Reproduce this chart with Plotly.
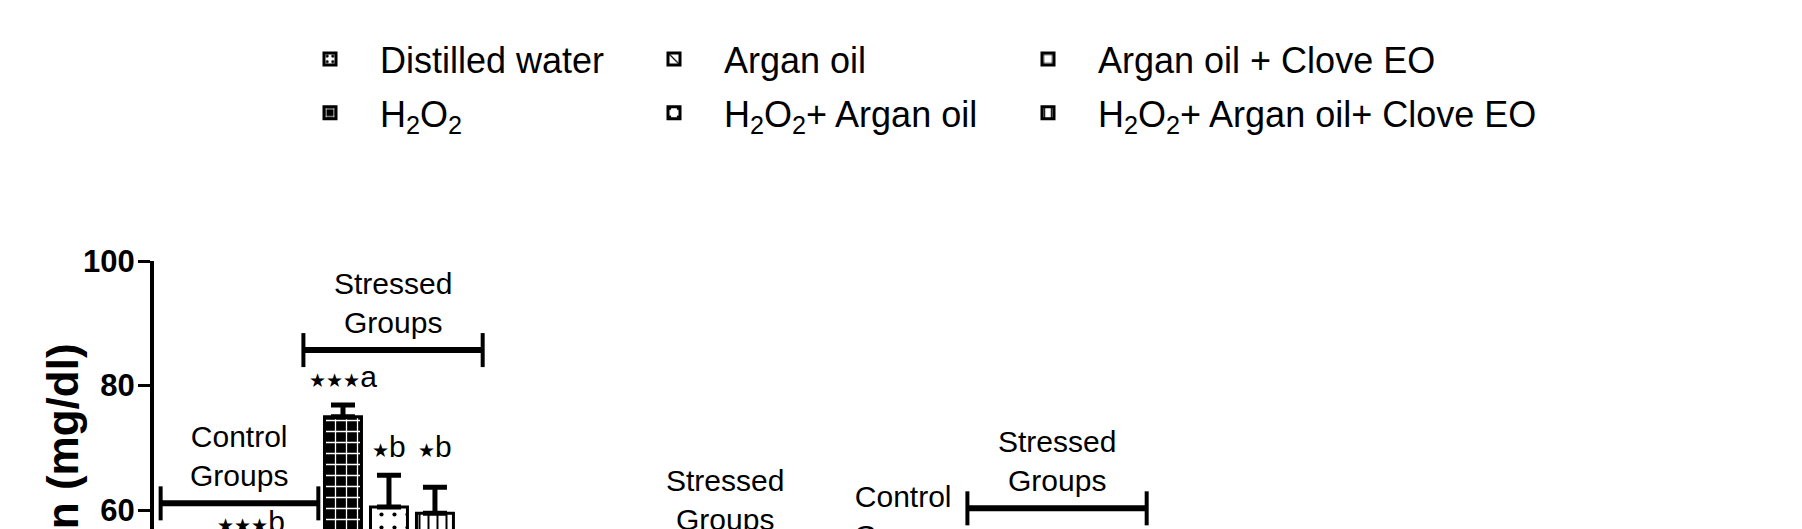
import plotly.graph_objects as go

# ---------------- data ----------------
groups = ["I", "II", "III"]

distilled_water = [48.0, 32.0, 41.0]
distilled_water_err = [2.0, 2.0, 2.0]
argan_oil = [51.0, 33.0, 42.0]
argan_oil_err = [2.6, 2.0, 2.0]
argan_clove = [47.0, 31.0, 40.0]
argan_clove_err = [2.0, 2.0, 2.0]
h2o2 = [75.0, 43.4, 49.6]
h2o2_err = [1.9, 1.9, 1.9]
h2o2_argan = [60.5, 37.0, 44.0]
h2o2_argan_err = [5.1, 2.0, 2.0]
h2o2_argan_clove = [59.5, 36.0, 43.0]
h2o2_argan_clove_err = [4.2, 2.0, 2.0]

STAR = '<span style="font-size:19px">★</span>'
sig_distilled_water = ["", "", ""]
sig_argan_oil = [STAR * 3 + "b", "", ""]
sig_argan_clove = ["", "", ""]
sig_h2o2 = [STAR * 3 + "a", "", ""]
sig_h2o2_argan = [STAR + "b", "", ""]
sig_h2o2_argan_clove = [STAR + "b", "", ""]

series_names = [
    "Distilled water",
    "Argan oil",
    "Argan oil + Clove EO",
    "H<sub>2</sub>O<sub>2</sub>",
    "H<sub>2</sub>O<sub>2</sub>+ Argan oil",
    "H<sub>2</sub>O<sub>2</sub>+ Argan oil+ Clove EO",
]
y_title = "Concentration (mg/dl)"
y_ticks = [0, 20, 40, 60, 80, 100]

# ---------------- styles ----------------
FONT = "Liberation Sans, Arial, sans-serif"
W, H = 1786, 1000
L, T = 146, 253
PW, PH = 996, 623
BARGAP = 0.169
BARGROUPGAP = 0.196

values = [distilled_water, argan_oil, argan_clove, h2o2, h2o2_argan, h2o2_argan_clove]
errors = [distilled_water_err, argan_oil_err, argan_clove_err, h2o2_err, h2o2_argan_err, h2o2_argan_clove_err]
sigs = [sig_distilled_water, sig_argan_oil, sig_argan_clove, sig_h2o2, sig_h2o2_argan, sig_h2o2_argan_clove]

patterns = [
    dict(shape=".", fgcolor="black", bgcolor="white", size=7, solidity=0.25, fillmode="replace"),
    dict(shape="\\", fgcolor="black", bgcolor="white", size=14, solidity=0.15, fillmode="replace"),
    dict(shape="+", fgcolor="black", bgcolor="white", size=12, solidity=0.12, fillmode="replace"),
    dict(shape="+", fgcolor="white", bgcolor="black", size=11, solidity=0.22, fillmode="replace"),
    dict(shape=".", fgcolor="black", bgcolor="white", size=13, solidity=0.08, fillmode="replace"),
    dict(shape="|", fgcolor="black", bgcolor="white", size=9, solidity=0.22, fillmode="replace"),
]
# legend columns: one legend per column, two entries stacked in each
legend_of = ["legend", "legend2", "legend3", "legend", "legend2", "legend3"]

fig = go.Figure()
for i, (name, v, e, pat, lg) in enumerate(zip(series_names, values, errors, patterns, legend_of)):
    fig.add_trace(go.Bar(
        x=groups, y=v, name=name, legend=lg, legendgroup=f"g{i}",
        marker=dict(color="white", line=dict(color="black", width=3), pattern=pat),
        error_y=dict(type="data", symmetric=False, array=e, arrayminus=[0] * len(e),
                     color="black", thickness=5, width=12),
    ))

# bar offsets inside a group (derived from the bar gap settings)
slot = (1 - BARGAP) / len(values)
offsets = [(k - (len(values) - 1) / 2) * slot for k in range(len(values))]

annotations = []
shapes = []
for gi in range(len(groups)):
    tops = [values[k][gi] + errors[k][gi] for k in range(len(values))]
    treated_top = max(tops[4:6])  # labels of the two treated stressed groups share one row
    for k in range(len(values)):
        txt = sigs[k][gi]
        if txt:
            y_lab = treated_top if k >= 4 else tops[k]
            annotations.append(dict(
                x=gi + offsets[k], y=y_lab, xref="x", yref="y",
                text=txt, showarrow=False, yanchor="bottom", yshift=10,
                font=dict(family=FONT + ", DejaVu Sans", size=30, color="black")))
    ctrl_top = max(tops[0:3])
    str_top = max(tops[3:6])
    brackets = [
        ("Control<br>Groups", gi - 0.48, gi - 0.005, ctrl_top + 7.5),
        ("Stressed<br>Groups", gi - 0.05, gi + 0.49, str_top + 8.8),
    ]
    for label, xa, xb, yb in brackets:
        shapes.append(dict(type="line", xref="x", yref="y", x0=xa, x1=xb, y0=yb, y1=yb,
                           line=dict(color="black", width=6)))
        for xe in (xa, xb):
            shapes.append(dict(type="line", xref="x", yref="y", x0=xe, x1=xe,
                               ysizemode="pixel", yanchor=yb, y0=-17, y1=17,
                               line=dict(color="black", width=4)))
        annotations.append(dict(
            x=(xa + xb) / 2, y=yb, xref="x", yref="y", text=label, showarrow=False,
            yanchor="bottom", yshift=9, font=dict(family=FONT, size=30, color="black")))

# y-axis title, centred on the plot height
annotations.append(dict(
    x=(54 - L) / PW, y=0.5, xref="paper", yref="paper", text=y_title, textangle=-90,
    showarrow=False, xanchor="center", yanchor="middle",
    font=dict(family=FONT, size=44, weight="bold", color="black")))


def px_x(fig_px):
    return (fig_px - L) / PW


def px_y(fig_px):
    return (T + PH - fig_px) / PH


legend_common = dict(orientation="v", xref="paper", xanchor="left",
                     yref="paper", yanchor="top", y=px_y(21), itemwidth=90,
                     tracegroupgap=4,
                     font=dict(family=FONT, size=36, color="black"),
                     bgcolor="rgba(0,0,0,0)")

fig.update_layout(
    width=W, height=H,
    margin=dict(l=L, r=W - L - PW, t=T, b=H - T - PH),
    paper_bgcolor="white", plot_bgcolor="white",
    barmode="group", bargap=BARGAP, bargroupgap=BARGROUPGAP,
    font=dict(family=FONT, color="black"),
    showlegend=True,
    legend=dict(legend_common, x=px_x(272)),
    legend2=dict(legend_common, x=px_x(616)),
    legend3=dict(legend_common, x=px_x(990)),
    annotations=annotations,
    shapes=shapes,
)
fig.update_xaxes(range=[-0.5, len(groups) - 0.5], showline=True, linecolor="black", linewidth=4,
                 ticks="", showgrid=False, zeroline=False, automargin=False,
                 tickfont=dict(family=FONT, size=30, weight="bold"))
fig.update_yaxes(range=[0, 100], tickvals=y_ticks, showline=True, linecolor="black", linewidth=4,
                 ticks="outside", ticklen=12, tickwidth=3, tickcolor="black",
                 ticklabelstandoff=-3,
                 showgrid=False, zeroline=False, automargin=False,
                 tickfont=dict(family=FONT, size=31, weight="bold"))

fig.write_html("out.html")
